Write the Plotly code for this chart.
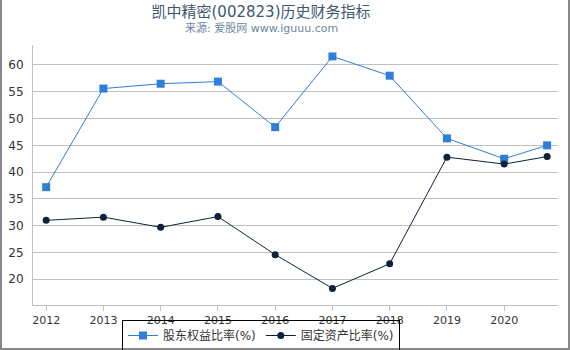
import plotly.graph_objects as go

years = [2012, 2013, 2014, 2015, 2016, 2017, 2018, 2019, 2020, 2020.75]
tick_vals = [2012, 2013, 2014, 2015, 2016, 2017, 2018, 2019, 2020]
tick_text = ["2012", "2013", "2014", "2015", "2016", "2017", "2018", "2019", "2020"]
equity_ratio = [37.2, 55.6, 56.5, 56.9, 48.4, 61.6, 58.0, 46.3, 42.5, 45.0]
fixed_asset_ratio = [31.0, 31.6, 29.7, 31.7, 24.6, 18.3, 22.9, 42.8, 41.5, 42.9]
series_names = ["股东权益比率(%)", "固定资产比率(%)"]

FONT = "DejaVu Sans, Noto Sans CJK SC, sans-serif"
L, R, T, B = 33, 12, 45, 45
W, H = 570, 350
pw, ph = W - L - R, H - T - B

def px(x):
    return (x - L) / pw

def py(y):
    return (H - B - y) / ph

fig = go.Figure()
fig.add_trace(go.Scatter(
    x=years, y=equity_ratio, name=series_names[0], mode="lines+markers",
    line=dict(color="#2f7ed8", width=1),
    marker=dict(symbol="square", size=8, color="#2f7ed8"),
))
fig.add_trace(go.Scatter(
    x=years, y=fixed_asset_ratio, name=series_names[1], mode="lines+markers",
    line=dict(color="#0d233a", width=1),
    marker=dict(symbol="circle", size=7, color="#0d233a"),
))

fig.update_layout(
    width=W, height=H,
    margin=dict(l=L, r=R, t=T, b=B, autoexpand=False),
    paper_bgcolor="rgba(0,0,0,0)", plot_bgcolor="white",
    font=dict(family=FONT, color="#333333"),
    title=dict(text="凯中精密(002823)历史财务指标", xref="paper", x=px(261), xanchor="center",
               yref="container", y=1 - 12 / H, yanchor="middle",
               font=dict(size=15, color="#3E576F", family=FONT)),
    annotations=[dict(text="来源: 爱股网 www.iguuu.com", xref="paper", yref="paper",
                      x=px(261), y=py(28), xanchor="center", yanchor="middle",
                      showarrow=False, font=dict(size=11, color="#6D869F", family=FONT))],
    xaxis=dict(range=[2011.77, 2020.94], tickvals=tick_vals, ticktext=tick_text,
               showgrid=False, zeroline=False, showline=True, linecolor="#C0C0C0", linewidth=1,
               ticks="outside", ticklen=5, tickcolor="#C0C0C0",
               tickfont=dict(size=11, color="#333333")),
    yaxis=dict(range=[15.2, 63.73], tickvals=[20, 25, 30, 35, 40, 45, 50, 55, 60],
               showgrid=True, gridcolor="#C0C0C0", gridwidth=1, zeroline=False,
               showline=True, linecolor="#C0C0C0", linewidth=1,
               tickfont=dict(size=12, color="#333333"), ticks="", ticklabelstandoff=6),
    legend=dict(orientation="h", x=px(261), xanchor="center", y=py(320), yanchor="top",
                bordercolor="#000000", borderwidth=1, bgcolor="rgba(255,255,255,0)",
                font=dict(size=12, color="#333333"), itemwidth=30,
                tracegroupgap=0),
    showlegend=True,
)

post = (
    "var d=document.getElementById('{plot_id}');"
    "document.body.style.margin='0';document.body.style.background='white';"
    "d.style.boxShadow='inset 2px 0 0 #888, inset -2px 0 0 #888, inset 0 -2px 0 #888';"
)
fig.write_html("out.html", post_script=post)
